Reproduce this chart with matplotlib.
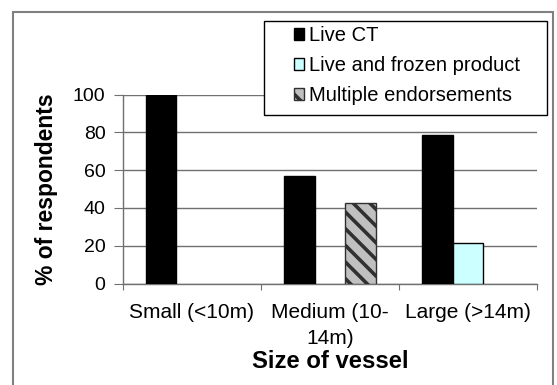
import numpy as np
import matplotlib
matplotlib.use("Agg")
import matplotlib.pyplot as plt
from matplotlib.patches import Rectangle

plt.rcParams['font.family'] = ['Liberation Sans', 'DejaVu Sans']
plt.rcParams['hatch.linewidth'] = 2.6

# data
categories = ['Small (<10m)', 'Medium (10-\n14m)', 'Large (>14m)']
series_names = ['Live CT', 'Live and frozen product', 'Multiple endorsements']
live_ct = [100, 57.1, 78.6]
live_frozen = [0, 0, 21.4]
multiple = [0, 42.9, 0]

W, H = 557, 385
fig = plt.figure(figsize=(W / 100, H / 100), dpi=100)
ax = fig.add_axes([122.7 / W, 101.5 / H, 414.3 / W, 188.8 / H])

# outer chart frame (bottom edge runs off the image)
fig.patches.append(Rectangle((12.7 / W, -0.2), (553 - 12.7) / W, 1.2 - 12 / H,
                             transform=fig.transFigure, fill=False,
                             edgecolor='#808080', linewidth=1.5, zorder=0))

w = 1 / 4.5
x = np.arange(len(categories))
styles = [dict(color='black', edgecolor='black'),
          dict(color='#CCFFFF', edgecolor='black'),
          dict(color='#C0C0C0', edgecolor='#303030', hatch='\\\\')]
handles = []
for k, (vals, st) in enumerate(zip([live_ct, live_frozen, multiple], styles)):
    vals = np.array(vals, dtype=float)
    keep = vals > 0
    b = ax.bar(x[keep] + (k - 1) * w, vals[keep], width=w, linewidth=1,
               zorder=3, **st)
    handles.append(b)

ax.set_xlim(-0.5, 2.5)
ax.set_ylim(0, 100)
ax.set_yticks(range(0, 101, 20))
ax.yaxis.grid(True, color='#707070', linewidth=1)
ax.set_axisbelow(True)
for s in ['top', 'right']:
    ax.spines[s].set_visible(False)
for s in ['left', 'bottom']:
    ax.spines[s].set_color('#707070')
    ax.spines[s].set_linewidth(1)

ax.set_xticks([-0.5, 0.5, 1.5, 2.5])
ax.set_xticklabels([])
ax.set_xticks(x, minor=True)
ax.set_xticklabels(categories, minor=True, fontsize=15, linespacing=1.45)
ax.tick_params(axis='x', which='major', direction='out', length=4.5,
               color='#707070')
ax.tick_params(axis='x', which='minor', length=0, pad=14)
ax.tick_params(axis='y', direction='out', length=6.5, color='#707070',
               labelsize=14, pad=5.8)

ax.set_ylabel('% of respondents', fontsize=16.5, fontweight='bold')
ax.yaxis.set_label_coords(-0.155, 0.5)
ax.set_xlabel('Size of vessel', fontsize=17.2, fontweight='bold')
ax.xaxis.set_label_coords(0.5, -0.35)

# legend box
fig.patches.append(Rectangle((264.3 / W, 1 - 115 / H), (546.7 - 264.3) / W,
                             (115 - 20.7) / H, transform=fig.transFigure,
                             facecolor='white', edgecolor='black',
                             linewidth=1, zorder=5))
leg = fig.legend(handles, series_names, loc='upper left',
                 bbox_to_anchor=(294.3 / W, 1 - 26 / H), frameon=False,
                 borderpad=0, borderaxespad=0, handlelength=0.5,
                 handleheight=0.5, handletextpad=0.25, labelspacing=0.55,
                 fontsize=14.5)
leg.set_zorder(6)

fig.savefig('out.png', dpi=100)
